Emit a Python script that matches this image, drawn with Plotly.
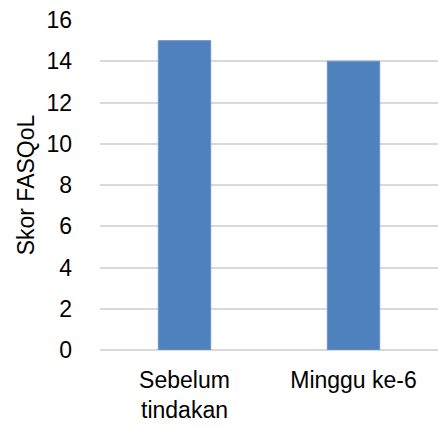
import plotly.graph_objects as go

categories = ["Sebelum<br>tindakan", "Minggu ke-6"]
scores = [15, 14]
y_ticks = [0, 2, 4, 6, 8, 10, 12, 14, 16]

fig = go.Figure(
    go.Bar(
        x=categories,
        y=scores,
        width=0.31,
        marker=dict(color="#4F81BD", line=dict(color="#6A96CC", width=1)),
    )
)

fig.update_layout(
    width=438,
    height=427,
    margin=dict(l=100, r=0, t=20, b=77),
    paper_bgcolor="white",
    plot_bgcolor="white",
    font=dict(family="Liberation Sans, Arial, sans-serif", size=23, color="#000000"),
    showlegend=False,
)

fig.update_xaxes(
    showgrid=False,
    showline=False,
    ticks="",
    ticklabelstandoff=14,
    tickfont=dict(size=23),
)

fig.update_yaxes(
    range=[0, 16],
    tickvals=y_ticks,
    showgrid=True,
    gridcolor="#D9D9D9",
    gridwidth=2,
    zeroline=True,
    zerolinecolor="#D9D9D9",
    zerolinewidth=2,
    ticks="",
    ticklabelstandoff=27,
    tickfont=dict(size=23),
    title=dict(text="Skor FASQoL", font=dict(size=23), standoff=5),
)

fig.write_html("out.html")
